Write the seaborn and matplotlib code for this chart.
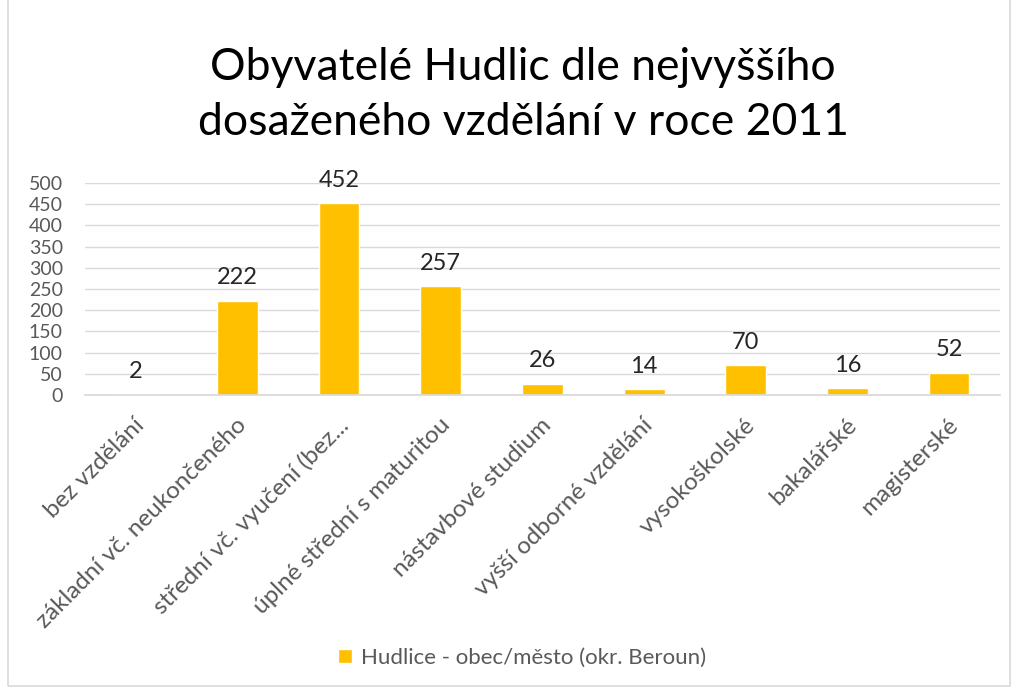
import matplotlib
matplotlib.use("Agg")
import matplotlib.pyplot as plt
import seaborn as sns
import pandas as pd
from matplotlib.patches import Rectangle

categories = ["bez vzdělání", "základní vč. neukončeného", "střední vč. vyučení (bez...",
              "úplné střední s maturitou", "nástavbové studium", "vyšší odborné vzdělání",
              "vysokoškolské", "bakalářské", "magisterské"]
values = [2, 222, 452, 257, 26, 14, 70, 16, 52]
series_name = "Hudlice - obec/město (okr. Beroun)"
title = "Obyvatelé Hudlic dle nejvyššího\ndosaženého vzdělání v roce 2011"
yticks = [0, 50, 100, 150, 200, 250, 300, 350, 400, 450, 500]

sns.set_theme(style="white")
plt.rcParams['font.family'] = ['Lato', 'DejaVu Sans']

df = pd.DataFrame({"cat": categories, "val": values, "series": series_name})

fig = plt.figure(figsize=(10.16, 6.9), dpi=100)
ax = fig.add_axes([85/1016, 1-395/690, 915/1016, 212/690])
sns.barplot(data=df, x="cat", y="val", hue="series", palette=["#FFC000"],
            width=0.4, ax=ax, legend=True, saturation=1)

ax.set_xlim(-0.5, len(categories) - 0.5)
ax.set_ylim(0, 500)
ax.set_yticks(yticks)
ax.set_yticklabels([str(t) for t in yticks], fontsize=14, color="#595959")
ax.yaxis.grid(True, color="#D9D9D9", linewidth=1)
ax.set_axisbelow(True)
for s in ["top", "right", "left"]:
    ax.spines[s].set_visible(False)
ax.spines["bottom"].set_color("#D9D9D9")
ax.tick_params(axis="y", length=0, pad=16)
ax.tick_params(axis="x", length=0, pad=14)
ax.set_xlabel("")
ax.set_ylabel("")

ax.set_xticks(range(len(categories)))
ax.set_xticklabels(categories, rotation=45, ha="right", rotation_mode="anchor",
                   fontsize=17.5, color="#595959")
for lbl in ax.get_xticklabels():
    lbl.set_transform(lbl.get_transform() + matplotlib.transforms.ScaledTranslation(-0.02, 0.0, fig.dpi_scale_trans))

for c in ax.containers:
    ax.bar_label(c, labels=[str(v) for v in values], padding=9, fontsize=17, color="#262626")

fig.text(0.515, 1 - 95/690, title, ha="center", va="center", fontsize=32, color="#000000",
         linespacing=1.45)

leg = ax.legend(loc="center", bbox_to_anchor=(522/1016, 1-658/690),
                bbox_transform=fig.transFigure, frameon=False, fontsize=16,
                handlelength=0.6, handleheight=0.6, handletextpad=0.4)
for t in leg.get_texts():
    t.set_color("#595959")

fig.patches.append(Rectangle((8/1016, 4/690), 1002/1016, 690/690, transform=fig.transFigure,
                             fill=False, edgecolor="#D9D9D9", linewidth=1.2))

fig.savefig("out.png", dpi=100)
